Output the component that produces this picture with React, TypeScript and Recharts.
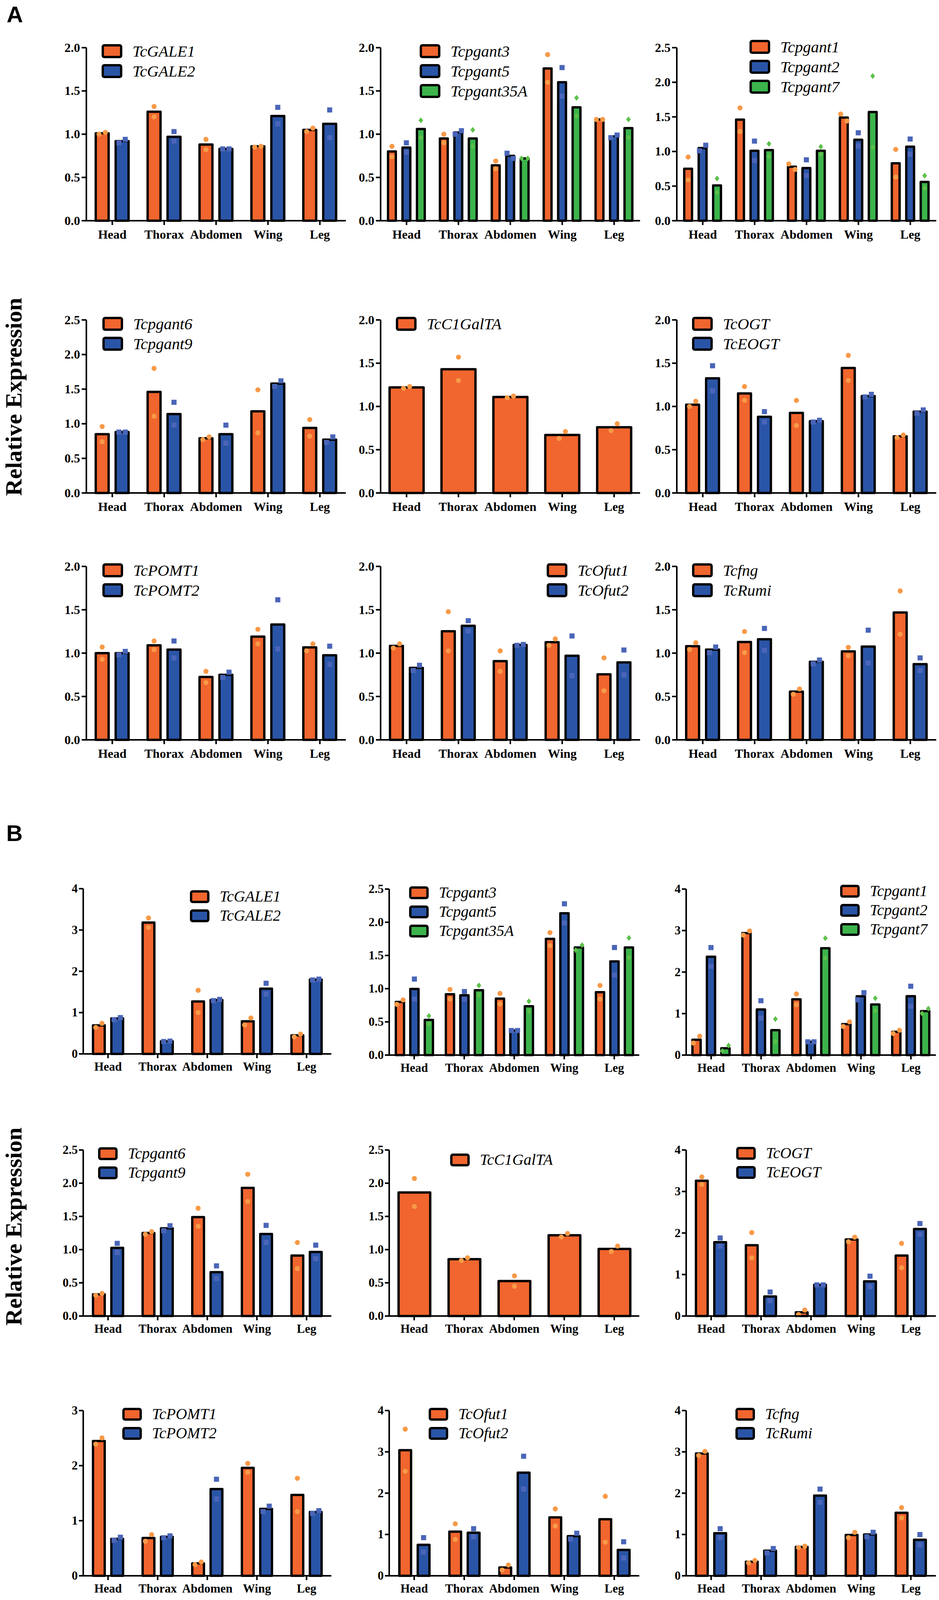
import React from 'react';
import { BarChart, Bar, XAxis, YAxis, Legend } from 'recharts';

// ---------------- categories ----------------
const tissues = ['Head', 'Thorax', 'Abdomen', 'Wing', 'Leg'];

// ---------------- Panel A (bar means + replicate points) ----------------
const aGALE1 = [1.01, 1.26, 0.88, 0.86, 1.05];
const aGALE1Reps = [[1.0, 1.02], [1.32, 1.2], [0.94, 0.82], [0.85, 0.86], [1.03, 1.07]];
const aGALE2 = [0.92, 0.97, 0.83, 1.21, 1.12];
const aGALE2Reps = [[0.9, 0.94], [1.03, 0.92], [0.83, 0.83], [1.31, 1.12], [1.28, 0.96]];

const aPgant3 = [0.8, 0.95, 0.64, 1.76, 1.17];
const aPgant3Reps = [[0.86, 0.74], [1.0, 0.9], [0.69, 0.6], [1.92, 1.6], [1.17, 1.17]];
const aPgant5 = [0.845, 1.02, 0.75, 1.6, 0.975];
const aPgant5Reps = [[0.9, 0.79], [1.0, 1.04], [0.78, 0.72], [1.77, 1.44], [0.96, 0.99]];
const aPgant35A = [1.06, 0.95, 0.72, 1.31, 1.07];
const aPgant35AReps = [[1.16, 0.96], [1.05, 0.86], [0.72, 0.72], [1.42, 1.21], [1.17, 0.96]];

const aPgant1 = [0.75, 1.46, 0.78, 1.49, 0.83];
const aPgant1Reps = [[0.92, 0.59], [1.63, 1.29], [0.82, 0.74], [1.54, 1.44], [1.03, 0.63]];
const aPgant2 = [1.05, 1.01, 0.76, 1.17, 1.07];
const aPgant2Reps = [[1.01, 1.09], [1.15, 0.87], [0.88, 0.65], [1.27, 1.08], [1.18, 0.96]];
const aPgant7 = [0.51, 1.02, 1.01, 1.57, 0.56];
const aPgant7Reps = [[0.61, 0.41], [1.11, 0.93], [1.07, 0.96], [2.09, 1.06], [0.65, 0.47]];

const aPgant6 = [0.85, 1.46, 0.79, 1.18, 0.94];
const aPgant6Reps = [[0.96, 0.74], [1.8, 1.11], [0.77, 0.81], [1.49, 0.87], [1.06, 0.82]];
const aPgant9 = [0.88, 1.14, 0.85, 1.58, 0.77];
const aPgant9Reps = [[0.88, 0.88], [1.31, 0.98], [0.98, 0.72], [1.54, 1.62], [0.73, 0.81]];

const aC1GalTA = [1.22, 1.43, 1.11, 0.67, 0.76];
const aC1GalTAReps = [[1.21, 1.23], [1.57, 1.3], [1.1, 1.12], [0.63, 0.71], [0.72, 0.8]];

const aOGT = [1.02, 1.15, 0.925, 1.445, 0.655];
const aOGTReps = [[1.0, 1.06], [1.23, 1.07], [1.07, 0.78], [1.59, 1.3], [0.64, 0.67]];
const aEOGT = [1.325, 0.88, 0.83, 1.12, 0.94];
const aEOGTReps = [[1.47, 1.18], [0.94, 0.82], [0.82, 0.84], [1.11, 1.14], [0.92, 0.96]];

const aPOMT1 = [1.0, 1.09, 0.725, 1.19, 1.066];
const aPOMT1Reps = [[1.07, 0.93], [1.14, 1.04], [0.79, 0.66], [1.275, 1.107], [1.026, 1.107]];
const aPOMT2 = [1.0, 1.04, 0.75, 1.33, 0.975];
const aPOMT2Reps = [[0.98, 1.02], [1.14, 0.945], [0.72, 0.78], [1.615, 1.047], [1.08, 0.87]];

const aOfut1 = [1.083, 1.252, 0.908, 1.126, 0.756];
const aOfut1Reps = [[1.059, 1.107], [1.478, 1.026], [1.026, 0.79], [1.089, 1.164], [0.945, 0.567]];
const aOfut2 = [0.83, 1.315, 1.095, 0.97, 0.893];
const aOfut2Reps = [[0.8, 0.86], [1.374, 1.255], [1.09, 1.1], [1.198, 0.74], [1.036, 0.749]];

const aFng = [1.08, 1.128, 0.556, 1.02, 1.468];
const aFngReps = [[1.042, 1.12], [1.249, 1.006], [0.526, 0.587], [0.97, 1.067], [1.717, 1.219]];
const aRumi = [1.04, 1.16, 0.9, 1.075, 0.873];
const aRumiReps = [[1.006, 1.07], [1.285, 1.032], [0.878, 0.92], [1.265, 0.885], [0.945, 0.8]];

// ---------------- Panel B (bar means + replicate points) ----------------
const bGALE1 = [0.69, 3.18, 1.27, 0.79, 0.45];
const bGALE1Reps = [[0.64, 0.74], [3.29, 3.06], [1.54, 1.0], [0.7, 0.87], [0.41, 0.48]];
const bGALE2 = [0.86, 0.306, 1.305, 1.58, 1.8];
const bGALE2Reps = [[0.83, 0.88], [0.3, 0.31], [1.29, 1.32], [1.71, 1.45], [1.79, 1.81]];

const bPgant3 = [0.8, 0.916, 0.85, 1.75, 0.947];
const bPgant3Reps = [[0.764, 0.83], [0.988, 0.844], [0.928, 0.77], [1.844, 1.65], [1.049, 0.844]];
const bPgant5 = [0.995, 0.9, 0.37, 2.135, 1.41];
const bPgant5Reps = [[1.145, 0.844], [0.957, 0.844], [0.37, 0.37], [2.278, 1.99], [1.62, 1.205]];
const bPgant35A = [0.53, 0.977, 0.735, 1.62, 1.62];
const bPgant35AReps = [[0.59, 0.47], [1.049, 0.904], [0.81, 0.66], [1.58, 1.656], [1.765, 1.47]];

const bPgant1 = [0.37, 2.94, 1.344, 0.745, 0.56];
const bPgant1Reps = [[0.29, 0.455], [2.89, 2.99], [1.473, 1.215], [0.69, 0.8], [0.52, 0.598]];
const bPgant2 = [2.37, 1.1, 0.32, 1.417, 1.418];
const bPgant2Reps = [[2.59, 2.14], [1.31, 0.89], [0.32, 0.32], [1.33, 1.504], [1.659, 1.177]];
const bPgant7 = [0.165, 0.6, 2.575, 1.218, 1.06];
const bPgant7Reps = [[0.1, 0.23], [0.868, 0.33], [2.816, 2.334], [1.369, 1.068], [1.003, 1.119]];

const bPgant6 = [0.326, 1.25, 1.49, 1.93, 0.91];
const bPgant6Reps = [[0.312, 0.34], [1.23, 1.27], [1.623, 1.352], [2.134, 1.724], [1.107, 0.714]];
const bPgant9 = [1.026, 1.32, 0.66, 1.236, 0.965];
const bPgant9Reps = [[1.094, 0.958], [1.284, 1.36], [0.755, 0.565], [1.365, 1.107], [1.067, 0.863]];

const bC1GalTA = [1.86, 0.856, 0.527, 1.216, 1.01];
const bC1GalTAReps = [[2.071, 1.65], [0.836, 0.877], [0.605, 0.448], [1.19, 1.243], [0.972, 1.053]];

const bOGT = [3.26, 1.706, 0.09, 1.845, 1.457];
const bOGTReps = [[3.17, 3.35], [2.01, 1.403], [0.035, 0.143], [1.79, 1.9], [1.75, 1.164]];
const bEOGT = [1.78, 0.47, 0.75, 0.835, 2.097];
const bEOGTReps = [[1.88, 1.685], [0.578, 0.369], [0.75, 0.75], [0.96, 0.71], [2.228, 1.967]];

const bPOMT1 = [2.447, 0.687, 0.226, 1.96, 1.468];
const bPOMT1Reps = [[2.39, 2.504], [0.627, 0.748], [0.202, 0.25], [2.04, 1.88], [1.77, 1.166]];
const bPOMT2 = [0.67, 0.707, 1.574, 1.215, 1.157];
const bPOMT2Reps = [[0.643, 0.7], [0.69, 0.725], [1.753, 1.394], [1.166, 1.264], [1.133, 1.182]];

const bOfut1 = [3.04, 1.069, 0.2, 1.413, 1.369];
const bOfut1Reps = [[3.55, 2.53], [1.258, 0.88], [0.14, 0.26], [1.62, 1.206], [1.924, 0.814]];
const bOfut2 = [0.749, 1.043, 2.496, 0.96, 0.627];
const bOfut2Reps = [[0.923, 0.575], [1.14, 0.946], [2.894, 2.098], [0.89, 1.03], [0.823, 0.43]];

const bFng = [2.96, 0.34, 0.7, 0.988, 1.525];
const bFngReps = [[2.912, 3.012], [0.313, 0.37], [0.683, 0.718], [0.923, 1.053], [1.65, 1.4]];
const bRumi = [1.03, 0.607, 1.94, 1.0, 0.873];
const bRumiReps = [[1.14, 0.923], [0.553, 0.66], [2.098, 1.78], [0.944, 1.053], [0.749, 0.997]];

// ---------------- axis ticks ----------------
const ticks20 = [0, 0.5, 1, 1.5, 2];
const ticks25 = [0, 0.5, 1, 1.5, 2, 2.5];
const ticks3 = [0, 1, 2, 3];
const ticks4 = [0, 1, 2, 3, 4];

// ---------------- styles ----------------
const SERIF = '"Liberation Serif", "Times New Roman", serif';
const SANS = '"Liberation Sans", Arial, sans-serif';
const BAR_COLORS: Record<string, string> = { o: '#F1652E', b: '#2A55A7', g: '#3CB44B' };
const DOT_COLORS: Record<string, string> = { o: '#F89A48', b: '#4A65B8', g: '#5DC04A' };

type Kind = 'o' | 'b' | 'g';
interface Series { name: string; kind: Kind; means: number[]; reps: number[][] }
interface PanelData { series: Series[]; ticks: number[]; dec: boolean }

const S = (name: string, kind: Kind, means: number[], reps: number[][]): Series => ({ name, kind, means, reps });

const panelsA: PanelData[] = [
  { series: [S('TcGALE1', 'o', aGALE1, aGALE1Reps), S('TcGALE2', 'b', aGALE2, aGALE2Reps)], ticks: ticks20, dec: true },
  { series: [S('Tcpgant3', 'o', aPgant3, aPgant3Reps), S('Tcpgant5', 'b', aPgant5, aPgant5Reps), S('Tcpgant35A', 'g', aPgant35A, aPgant35AReps)], ticks: ticks20, dec: true },
  { series: [S('Tcpgant1', 'o', aPgant1, aPgant1Reps), S('Tcpgant2', 'b', aPgant2, aPgant2Reps), S('Tcpgant7', 'g', aPgant7, aPgant7Reps)], ticks: ticks25, dec: true },
  { series: [S('Tcpgant6', 'o', aPgant6, aPgant6Reps), S('Tcpgant9', 'b', aPgant9, aPgant9Reps)], ticks: ticks25, dec: true },
  { series: [S('TcC1GalTA', 'o', aC1GalTA, aC1GalTAReps)], ticks: ticks20, dec: true },
  { series: [S('TcOGT', 'o', aOGT, aOGTReps), S('TcEOGT', 'b', aEOGT, aEOGTReps)], ticks: ticks20, dec: true },
  { series: [S('TcPOMT1', 'o', aPOMT1, aPOMT1Reps), S('TcPOMT2', 'b', aPOMT2, aPOMT2Reps)], ticks: ticks20, dec: true },
  { series: [S('TcOfut1', 'o', aOfut1, aOfut1Reps), S('TcOfut2', 'b', aOfut2, aOfut2Reps)], ticks: ticks20, dec: true },
  { series: [S('Tcfng', 'o', aFng, aFngReps), S('TcRumi', 'b', aRumi, aRumiReps)], ticks: ticks20, dec: true },
];

const panelsB: PanelData[] = [
  { series: [S('TcGALE1', 'o', bGALE1, bGALE1Reps), S('TcGALE2', 'b', bGALE2, bGALE2Reps)], ticks: ticks4, dec: false },
  { series: [S('Tcpgant3', 'o', bPgant3, bPgant3Reps), S('Tcpgant5', 'b', bPgant5, bPgant5Reps), S('Tcpgant35A', 'g', bPgant35A, bPgant35AReps)], ticks: ticks25, dec: true },
  { series: [S('Tcpgant1', 'o', bPgant1, bPgant1Reps), S('Tcpgant2', 'b', bPgant2, bPgant2Reps), S('Tcpgant7', 'g', bPgant7, bPgant7Reps)], ticks: ticks4, dec: false },
  { series: [S('Tcpgant6', 'o', bPgant6, bPgant6Reps), S('Tcpgant9', 'b', bPgant9, bPgant9Reps)], ticks: ticks25, dec: true },
  { series: [S('TcC1GalTA', 'o', bC1GalTA, bC1GalTAReps)], ticks: ticks25, dec: true },
  { series: [S('TcOGT', 'o', bOGT, bOGTReps), S('TcEOGT', 'b', bEOGT, bEOGTReps)], ticks: ticks4, dec: false },
  { series: [S('TcPOMT1', 'o', bPOMT1, bPOMT1Reps), S('TcPOMT2', 'b', bPOMT2, bPOMT2Reps)], ticks: ticks3, dec: false },
  { series: [S('TcOfut1', 'o', bOfut1, bOfut1Reps), S('TcOfut2', 'b', bOfut2, bOfut2Reps)], ticks: ticks4, dec: false },
  { series: [S('Tcfng', 'o', bFng, bFngReps), S('TcRumi', 'b', bRumi, bRumiReps)], ticks: ticks4, dec: false },
];

// ---------------- layout (pixel positions of each panel) ----------------
interface Box { axisX: number; w: number; top: number; bottom: number; legX: number; legY: number }
const layoutA: Box[] = [
  { axisX: 221, w: 664, top: 122, bottom: 565, legX: 260, legY: 131 },
  { axisX: 974, w: 664, top: 122, bottom: 565, legX: 1074, legY: 131 },
  { axisX: 1732, w: 664, top: 122, bottom: 565, legX: 1918, legY: 120 },
  { axisX: 221, w: 664, top: 819, bottom: 1262, legX: 262, legY: 829 },
  { axisX: 974, w: 664, top: 819, bottom: 1262, legX: 1013, legY: 829 },
  { axisX: 1732, w: 664, top: 819, bottom: 1262, legX: 1771, legY: 829 },
  { axisX: 221, w: 664, top: 1450, bottom: 1894, legX: 262, legY: 1460 },
  { axisX: 974, w: 664, top: 1450, bottom: 1894, legX: 1399, legY: 1460 },
  { axisX: 1732, w: 664, top: 1450, bottom: 1894, legX: 1771, legY: 1460 },
];
// the lower B rows are pulled up a little so the last row of tick labels stays inside the captured page
const layoutB: Box[] = [
  { axisX: 213, w: 635, top: 2275, bottom: 2698, legX: 486, legY: 2295 },
  { axisX: 996, w: 640, top: 2276, bottom: 2701, legX: 1047, legY: 2285 },
  { axisX: 1756, w: 639, top: 2276, bottom: 2701, legX: 2150, legY: 2281 },
  { axisX: 213, w: 635, top: 2944, bottom: 3369, legX: 251, legY: 2953 },
  { axisX: 996, w: 640, top: 2944, bottom: 3369, legX: 1152, legY: 2969 },
  { axisX: 1756, w: 639, top: 2944, bottom: 3369, legX: 1884, legY: 2952 },
  { axisX: 213, w: 635, top: 3611, bottom: 4034, legX: 313, legY: 3620 },
  { axisX: 996, w: 640, top: 3611, bottom: 4034, legX: 1097, legY: 3620 },
  { axisX: 1756, w: 639, top: 3611, bottom: 4034, legX: 1882, legY: 3620 },
];

interface PartStyle { tickFont: number; legFont: number; legRow: number; swW: number; swH: number; swGap: number;
  bar2: number; gap2: number; bar3: number; gap3: number; bar1: number; xTick: number; xMargin: number; yTick: number; yMargin: number }
const styleA: PartStyle = { tickFont: 32, legFont: 41, legRow: 51, swW: 53, swH: 36, swGap: 26, bar2: 33, gap2: 18, bar3: 20, gap3: 17, bar1: 87, xTick: 11, xMargin: 12, yTick: 12, yMargin: 4 };
const styleB: PartStyle = { tickFont: 31, legFont: 40, legRow: 49, swW: 50, swH: 33, swGap: 26, bar2: 30, gap2: 17, bar3: 21, gap3: 16, bar1: 81, xTick: 11, xMargin: 10, yTick: 11, yMargin: 3 };

const YW = 130; // y-axis width
const MT = 30;  // top margin
const MR = 4;   // right margin
const XH = 58;  // x-axis height

const Marker = ({ kind, cx, cy }: { kind: Kind; cx: number; cy: number }) => {
  const c = DOT_COLORS[kind];
  if (kind === 'o') return <circle cx={cx} cy={cy} r={6.5} fill={c} />;
  if (kind === 'b') return <rect x={cx - 6.5} y={cy - 6.5} width={13} height={13} fill={c} />;
  return <polygon points={`${cx},${cy - 7.5} ${cx + 6},${cy} ${cx},${cy + 7.5} ${cx - 6},${cy}`} fill={c} />;
};

const makeShape = (s: Series) => (props: any) => {
  const { x, y, width, height, payload } = props;
  const mean = payload[s.name] as number;
  const reps = payload[s.name + '_reps'] as number[];
  const base = y + height;
  const k = height / mean; // pixels per unit, from the library's y scale
  const ys = reps.map((r) => base - r * k);
  const close = Math.abs(ys[0] - ys[1]) < 18.5;
  const cx = x + width / 2;
  const dx = close ? [-8, 8] : [0, 0];
  return (
    <g>
      <rect x={x} y={y} width={width} height={height} fill={BAR_COLORS[s.kind]} stroke="#000" strokeWidth={6} strokeLinejoin="round" />
      {ys.map((yy, i) => <Marker key={i} kind={s.kind} cx={cx + dx[i]} cy={yy} />)}
    </g>
  );
};

const makeLegend = (st: PartStyle, series: Series[]) => () => (
  <div>
    {series.map((s) => (
      <div key={s.name} style={{ display: 'flex', alignItems: 'center', height: st.legRow }}>
        <div style={{ width: st.swW, height: st.swH, boxSizing: 'border-box', border: '6px solid #000', borderRadius: 7, background: BAR_COLORS[s.kind] }} />
        <span style={{ marginLeft: st.swGap, fontFamily: SERIF, fontStyle: 'italic', fontSize: st.legFont, color: '#000', lineHeight: 1, whiteSpace: 'nowrap' }}>{s.name}</span>
      </div>
    ))}
  </div>
);

const makeXTick = (fs: number) => (props: any) => {
  const { x, y, payload } = props;
  return (
    <text x={x} y={y} dy={0.71 * fs} textAnchor="middle" fontFamily={SERIF} fontWeight={700} fontSize={fs} fill="#000">{payload.value}</text>
  );
};

const makeYTick = (fs: number, dec: boolean) => (props: any) => {
  const { x, y, payload } = props;
  const v = payload.value as number;
  return (
    <text x={x} y={y} dy={0.33 * fs} textAnchor="end" fontFamily={SERIF} fontWeight={700} fontSize={fs} fill="#000">{dec ? v.toFixed(1) : String(v)}</text>
  );
};

const Panel = ({ p, box, st }: { p: PanelData; box: Box; st: PartStyle }) => {
  const rows = tissues.map((t, i) => {
    const r: any = { tissue: t };
    p.series.forEach((s) => { r[s.name] = s.means[i]; r[s.name + '_reps'] = s.reps[i]; });
    return r;
  });
  const n = p.series.length;
  const barSize = n === 1 ? st.bar1 : n === 2 ? st.bar2 : st.bar3;
  const barGap = n === 3 ? st.gap3 : st.gap2;
  const chartLeft = box.axisX - YW;
  const chartTop = box.top - MT;
  const width = YW + box.w + MR;
  const height = MT + (box.bottom - box.top) + XH;
  const yMax = p.ticks[p.ticks.length - 1];
  const line = { stroke: '#000', strokeWidth: 4 };
  return (
    <div style={{ position: 'absolute', left: chartLeft, top: chartTop }}>
      <BarChart width={width} height={height} data={rows} margin={{ top: MT, right: MR, left: 0, bottom: 0 }} barSize={barSize} barGap={barGap}>
        <XAxis dataKey="tissue" height={XH} interval={0} tickSize={st.xTick} tickMargin={st.xMargin}
          axisLine={line} tickLine={line} tick={makeXTick(st.tickFont)} />
        <YAxis type="number" width={YW} domain={[0, yMax]} ticks={p.ticks} interval={0} tickSize={st.yTick} tickMargin={st.yMargin}
          axisLine={line} tickLine={line} tick={makeYTick(st.tickFont, p.dec)} />
        <Legend layout="vertical" align="center" verticalAlign="middle" content={makeLegend(st, p.series)}
          wrapperStyle={{ left: box.legX - chartLeft, top: box.legY - chartTop - st.legRow / 2, width: 'auto', height: 'auto', right: 'auto', bottom: 'auto' }} />
        {p.series.map((s) => (
          <Bar key={s.name} dataKey={s.name} name={s.name} fill={BAR_COLORS[s.kind]} isAnimationActive={false} shape={makeShape(s)} />
        ))}
      </BarChart>
    </div>
  );
};

export default function App() {
  return (
    <div style={{ position: 'absolute', left: 0, top: 0, width: 2403, height: 4165, background: '#fff', overflow: 'hidden' }}>
      <svg width={2403} height={4165} style={{ position: 'absolute', left: 0, top: 0 }}>
        <text x={17} y={57} fontFamily={SANS} fontWeight={700} fontSize={58} fill="#000">A</text>
        <text x={16} y={2153} fontFamily={SANS} fontWeight={700} fontSize={58} fill="#000">B</text>
        <text x={55} y={1016} transform="rotate(-90 55 1016)" textAnchor="middle" fontFamily={SERIF} fontWeight={700} fontSize={60} fill="#000">Relative Expression</text>
        <text x={55} y={3140} transform="rotate(-90 55 3140)" textAnchor="middle" fontFamily={SERIF} fontWeight={700} fontSize={60} fill="#000">Relative Expression</text>
      </svg>
      {panelsA.map((p, i) => <Panel key={'a' + i} p={p} box={layoutA[i]} st={styleA} />)}
      {panelsB.map((p, i) => <Panel key={'b' + i} p={p} box={layoutB[i]} st={styleB} />)}
    </div>
  );
}
